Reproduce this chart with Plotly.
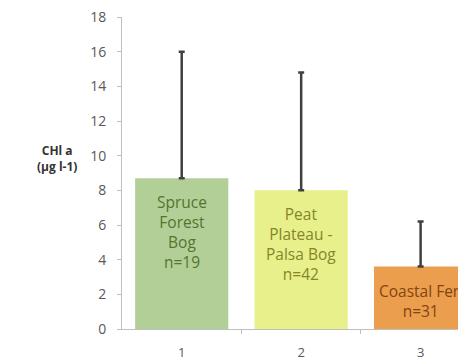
import plotly.graph_objects as go

categories = [1, 2, 3]
means = [8.7, 8.0, 3.6]
err_plus = [7.3, 6.8, 2.6]
bar_labels = ["Spruce<br>Forest<br>Bog<br>n=19", "Peat<br>Plateau -<br>Palsa Bog<br>n=42", "Coastal Fen<br>n=31"]
bar_colors = ["#B3CF98", "#E7F08A", "#EA9E4E"]
label_colors = ["#55742F", "#85852A", "#84440E"]
tick_labels = ["1", "2", "3"]
y_ticks = list(range(0, 19, 2))

fig = go.Figure()
fig.add_trace(go.Bar(
    x=categories, y=means, width=0.78,
    marker=dict(color=bar_colors, line=dict(width=0)),
    error_y=dict(type="data", symmetric=False, array=err_plus,
                 arrayminus=[0, 0, 0], color="#404040", thickness=2.5, width=3),
    hoverinfo="skip",
))

for c, m, t, col in zip(categories, means, bar_labels, label_colors):
    fig.add_annotation(x=c, y=m, text=t, showarrow=False, yanchor="top",
                       yshift=-11, font=dict(size=15.5, color=col, family="Open Sans"),
                       align="center")

fig.add_annotation(xref="paper", yref="paper", x=-0.19, y=0.545,
                   text="<b>CHl a<br>(µg l-1)</b>", showarrow=False,
                   font=dict(size=12, color="#333333", family="Open Sans"),
                   align="center", xanchor="center", yanchor="middle")

# page body has an 8px default margin, so the figure is offset by 8px
fig.update_layout(
    width=458, height=356,
    margin=dict(l=114, r=0, t=9, b=35),
    paper_bgcolor="white", plot_bgcolor="white",
    showlegend=False,
    font=dict(family="Open Sans", size=12, color="#595959"),
)
fig.update_xaxes(range=[0.5, 3.38], tickvals=categories, ticktext=tick_labels,
                 ticks="", showgrid=False, zeroline=False, automargin=False,
                 showline=True, linecolor="#BFBFBF", linewidth=1,
                 ticklabelstandoff=11, ticklabeloverflow="allow",
                 tickfont=dict(size=13, color="#595959"),
                 minor=dict(tickvals=[1.5, 2.5], ticks="outside", ticklen=4,
                            tickcolor="#BFBFBF", showgrid=False))
fig.update_yaxes(range=[0, 18], tickvals=y_ticks, ticks="outside", ticklen=4,
                 tickcolor="#BFBFBF", showgrid=False, zeroline=False, automargin=False,
                 showline=True, linecolor="#BFBFBF", linewidth=1,
                 ticklabelstandoff=8, ticklabeloverflow="allow",
                 tickfont=dict(size=14, color="#595959"))

fig.write_html("out.html")
